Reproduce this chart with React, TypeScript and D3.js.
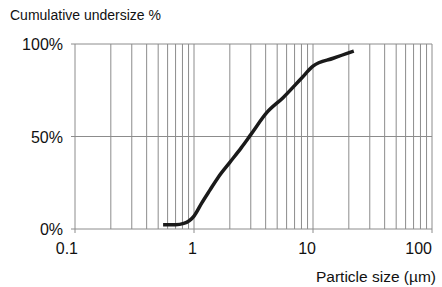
import React from "react";
import * as d3 from "d3";

const sizes = [0.55, 0.7, 0.82, 1.0, 1.16, 1.36, 1.6, 2.0, 2.5, 3.0, 4.1, 5.6, 8.0, 10.0, 14.8, 22];
const undersize = [2.3, 2.3, 3.0, 7.0, 14, 21, 28, 36, 44, 51, 63, 71, 81.5, 88, 92.3, 96.2];
const xTicks = [0.1, 1, 10, 100];
const xTickLabels = ["0.1", "1", "10", "100"];
const yTicks = [0, 50, 100];
const yTickLabels = ["0%", "50%", "100%"];

export default function App() {
  const W = 442, H = 287;
  const left = 75, right = 432, top = 44, bottom = 229;
  const x = d3.scaleLog().domain([0.1, 100]).range([left, right]);
  const y = d3.scaleLinear().domain([0, 100]).range([bottom, top]);
  const minor: number[] = [];
  for (let e = -1; e < 2; e++) {
    for (let k = 2; k <= 9; k++) minor.push(k * Math.pow(10, e));
  }
  const line = d3
    .line<number>()
    .x((_, i) => x(sizes[i]))
    .y((d) => y(d))
    .curve(d3.curveMonotoneX);
  const font = "Arial, 'Liberation Sans', sans-serif";
  const grid = "#8c8c8c";
  const labelX = (v: number, i: number) => (i === xTicks.length - 1 ? x(v) : x(v) + 3);
  return (
    <svg width={W} height={H} style={{ position: "absolute", left: 0, top: 0 }} fontFamily={font}>
      <rect width={W} height={H} fill="#fff" />
      <text x={10} y={19.5} fontSize={14} fill="#111">Cumulative undersize %</text>
      {minor.map((v) => (
        <line key={v} x1={x(v)} x2={x(v)} y1={top} y2={bottom} stroke={grid} strokeWidth={1} />
      ))}
      {xTicks.map((v) => (
        <line key={"t" + v} x1={x(v)} x2={x(v)} y1={top} y2={bottom + 4} stroke={grid} strokeWidth={1} />
      ))}
      {yTicks.map((v) => (
        <line key={"y" + v} x1={left - 4} x2={right} y1={y(v)} y2={y(v)} stroke={grid} strokeWidth={1} />
      ))}
      {yTicks.map((v, i) => (
        <text key={"yl" + v} x={63} y={y(v) + 6} fontSize={16} textAnchor="end" fill="#111">{yTickLabels[i]}</text>
      ))}
      {xTicks.map((v, i) => (
        <text key={"xl" + v} x={labelX(v, i)} y={254} fontSize={16} textAnchor="end" fill="#111">{xTickLabels[i]}</text>
      ))}
      <text x={436} y={282} fontSize={15.5} textAnchor="end" fill="#111">Particle size (µm)</text>
      <path d={line(undersize) || ""} fill="none" stroke="#1a1a1a" strokeWidth={3.5} strokeLinecap="butt" strokeLinejoin="round" />
    </svg>
  );
}
